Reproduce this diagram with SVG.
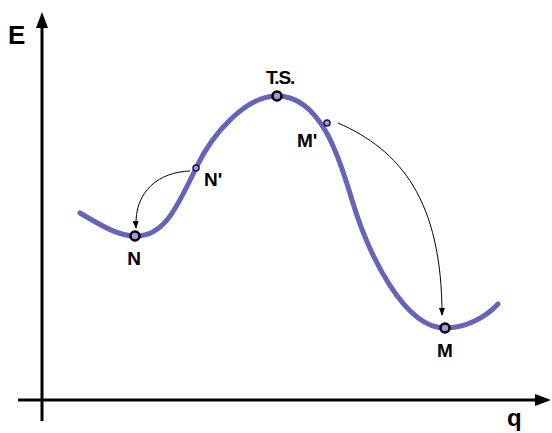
<svg xmlns="http://www.w3.org/2000/svg" width="552" height="433" viewBox="0 0 552 433">
  <style>
    .lbl { font-family: "Liberation Sans", Arial, sans-serif; font-weight: bold; font-size: 19px; fill: #000; }
    .ax { stroke: #000; stroke-width: 3; fill: none; }
    .curve { stroke: #6464b9; stroke-width: 5; fill: none; stroke-linecap: round; }
    .big { fill: #9c9cd2; stroke: #000; stroke-width: 2.5; }
    .small { fill: #9c9cd2; stroke: #1a1a4a; stroke-width: 1.5; }
    .conn { stroke: #000; stroke-width: 1; fill: none; }
  </style>
  <defs>
    <marker id="ah" markerWidth="8" markerHeight="8" refX="7" refY="3" orient="auto" markerUnits="userSpaceOnUse">
      <path d="M0,0 L8,3 L0,6 Z" fill="#000"/>
    </marker>
  </defs>
  <rect width="552" height="433" fill="#fff"/>
  <g id="axes">
    <line class="ax" x1="42" y1="26" x2="42" y2="421"/>
    <path d="M42,12 L36,28 L48,28 Z" fill="#000"/>
    <line class="ax" x1="18" y1="400" x2="538" y2="400"/>
    <path d="M551,400 L535,394 L535,406 Z" fill="#000"/>
    <text class="lbl" x="8" y="44" style="font-size:26px">E</text>
    <text class="lbl" x="507" y="426" style="font-size:24px">q</text>
  </g>
  <g id="curve">
    <path class="curve" d="M80,213 C105,228 120,236 135,236 C165,237 178,205 197,166 C212,135 245,96 277,96 C322,96 340.4,161.6 352,200 C369.4,257.6 405,328 445,328 C465,328 485,318 498,304"/>
  </g>
  <g id="connectors">
    <path class="conn" d="M190,171 C160,172 134,190 136,228" marker-end="url(#ah)"/>
    <path class="conn" d="M338,123 C400,150 442,200 442,315" marker-end="url(#ah)"/>
  </g>
  <g id="N">
    <circle class="big" cx="135" cy="236" r="4.5"/>
    <text class="lbl" x="134" y="265" text-anchor="middle">N</text>
  </g>
  <g id="Nprime">
    <circle class="small" cx="196" cy="168" r="3"/>
    <text class="lbl" x="204" y="186">N'</text>
  </g>
  <g id="TS">
    <circle class="big" cx="277" cy="96" r="4.5"/>
    <text class="lbl" x="280" y="84" text-anchor="middle" letter-spacing="-1.2">T.S.</text>
  </g>
  <g id="Mprime">
    <circle class="small" cx="327" cy="123" r="3"/>
    <text class="lbl" x="297" y="147">M'</text>
  </g>
  <g id="M">
    <circle class="big" cx="445" cy="328" r="4.5"/>
    <text class="lbl" x="445" y="357" text-anchor="middle">M</text>
  </g>
</svg>
